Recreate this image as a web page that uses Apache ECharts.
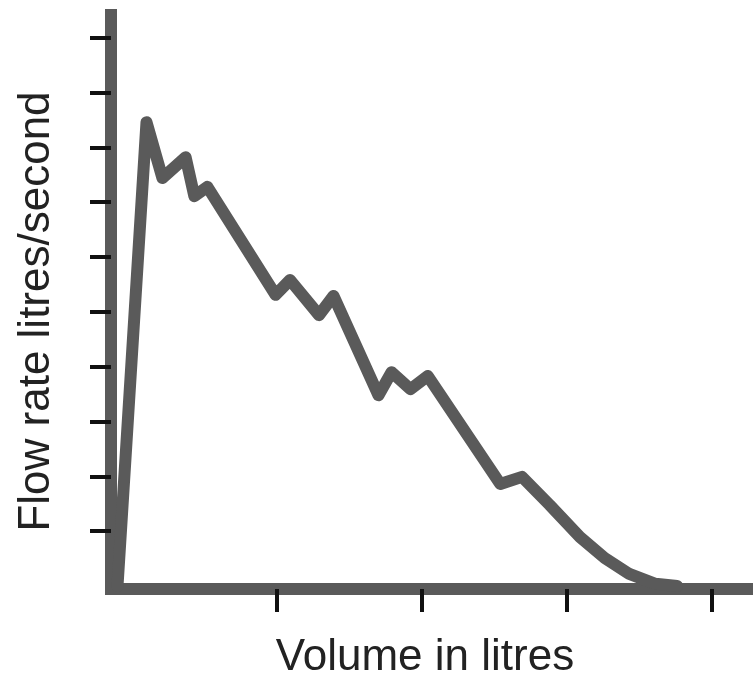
<!DOCTYPE html>
<html>
<head>
<meta charset="utf-8">
<script src="https://cdn.jsdelivr.net/npm/echarts@6/dist/echarts.min.js"></script>
<style>
html,body{margin:0;padding:0;background:#fff;}
#chart{width:753px;height:679px;}
</style>
</head>
<body>
<div id="chart"></div>
<script>
// Volume (litres) and flow rate (litres/second)
const volume = [-0.10, 0.10, 0.21, 0.37, 0.43, 0.52, 0.99, 1.09, 1.29, 1.39, 1.70, 1.79, 1.92, 2.04, 2.54, 2.69, 2.88, 3.09, 3.26, 3.43, 3.61, 3.76];
const flow   = [0.00, 8.46, 7.44, 7.82, 7.11, 7.28, 5.31, 5.58, 4.94, 5.29, 3.48, 3.90, 3.59, 3.83, 1.86, 1.99, 1.48, 0.89, 0.51, 0.22, 0.04, 0.00];
const xTicks = [1, 2, 3, 4];
const yTicks = [1, 2, 3, 4, 5, 6, 7, 8, 9, 10];
const xName = 'Volume in litres';
const yName = 'Flow rate litres/second';

const points = volume.map((v, i) => [v, flow[i]]);
const axisGray = '#5a5a5a';
const font = '"Liberation Sans", Arial, Helvetica, sans-serif';

const chart = echarts.init(document.getElementById('chart'), null, {renderer: 'canvas'});
chart.setOption({
  animation: false,
  backgroundColor: '#ffffff',
  grid: {left: 111, right: 0, top: 15, bottom: 90, containLabel: false, outerBoundsMode: 'none'},
  xAxis: {
    type: 'value',
    min: -0.1448,
    max: 4.283,
    name: xName,
    nameLocation: 'middle',
    nameGap: 47,
    nameTextStyle: {fontFamily: font, fontSize: 44, color: '#222', padding: [0, 14, 0, 0]},
    axisLine: {show: true, onZero: false, lineStyle: {color: axisGray, width: 12, cap: 'square'}},
    axisTick: {show: true, inside: false, length: 23, customValues: xTicks, lineStyle: {color: '#111', width: 4}},
    axisLabel: {show: false},
    splitLine: {show: false}
  },
  yAxis: {
    type: 'value',
    min: -0.0547,
    max: 10.414,
    name: yName,
    nameLocation: 'middle',
    nameGap: 52,
    nameTextStyle: {fontFamily: font, fontSize: 44, color: '#222', padding: [0, 19, 0, 0]},
    axisLine: {show: true, onZero: false, lineStyle: {color: axisGray, width: 12, cap: 'square'}},
    axisTick: {show: true, inside: false, length: 21, customValues: yTicks, lineStyle: {color: '#111', width: 4}},
    axisLabel: {show: false},
    splitLine: {show: false}
  },
  series: [{
    type: 'line',
    data: points,
    symbol: 'none',
    smooth: false,
    clip: false,
    lineStyle: {color: axisGray, width: 12, cap: 'round', join: 'round'},
    z: 1
  }]
});
</script>
</body>
</html>
